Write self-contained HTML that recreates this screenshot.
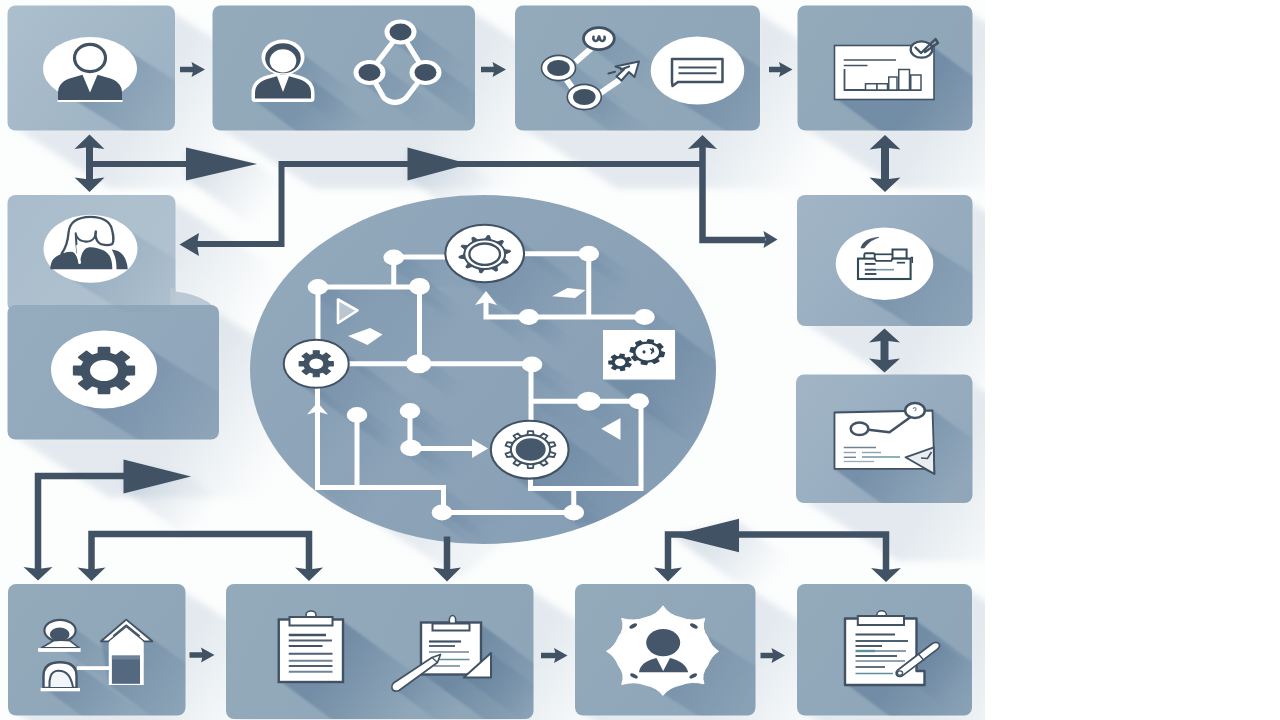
<!DOCTYPE html>
<html lang="en"><head><meta charset="utf-8"><title>Workflow diagram</title>
<style>
html,body{margin:0;padding:0;background:#fff;font-family:"Liberation Sans",sans-serif;}
body{width:1280px;height:720px;overflow:hidden;}
svg{display:block;}
</style></head><body>
<svg width="1280" height="720" viewBox="0 0 1280 720" role="img" aria-label="Workflow process diagram">
<defs><clipPath id="c_b1"><rect x="7.5" y="5.5" width="167.5" height="125" rx="8"/></clipPath><linearGradient id="g1" gradientUnits="userSpaceOnUse" x1="7.5" y1="5.5" x2="175" y2="130.5"><stop offset="0" stop-color="#acbfcd" stop-opacity="1"/><stop offset="1" stop-color="#9ab0c1" stop-opacity="1"/></linearGradient><linearGradient id="g2" gradientUnits="userSpaceOnUse" x1="171" y1="69" x2="257.49" y2="124.8"><stop offset="0" stop-color="#b4c4d2" stop-opacity="0.35"/><stop offset="1" stop-color="#b4c4d2" stop-opacity="0"/></linearGradient><clipPath id="c_b2"><rect x="212.5" y="5.5" width="262.5" height="125" rx="8"/></clipPath><linearGradient id="g3" gradientUnits="userSpaceOnUse" x1="212.5" y1="5.5" x2="475" y2="130.5"><stop offset="0" stop-color="#93aabb" stop-opacity="1"/><stop offset="1" stop-color="#8ea5b8" stop-opacity="1"/></linearGradient><linearGradient id="g4" gradientUnits="userSpaceOnUse" x1="471" y1="69" x2="557.49" y2="124.8"><stop offset="0" stop-color="#b4c4d2" stop-opacity="0.35"/><stop offset="1" stop-color="#b4c4d2" stop-opacity="0"/></linearGradient><clipPath id="c_b3"><rect x="515" y="5.5" width="245" height="125" rx="8"/></clipPath><linearGradient id="g5" gradientUnits="userSpaceOnUse" x1="515" y1="5.5" x2="760" y2="130.5"><stop offset="0" stop-color="#93aabb" stop-opacity="1"/><stop offset="1" stop-color="#8ea5b8" stop-opacity="1"/></linearGradient><linearGradient id="g6" gradientUnits="userSpaceOnUse" x1="756" y1="69" x2="842.49" y2="124.8"><stop offset="0" stop-color="#b4c4d2" stop-opacity="0.35"/><stop offset="1" stop-color="#b4c4d2" stop-opacity="0"/></linearGradient><clipPath id="c_b4"><rect x="797.5" y="5.5" width="175" height="125" rx="8"/></clipPath><linearGradient id="g7" gradientUnits="userSpaceOnUse" x1="797.5" y1="5.5" x2="972.5" y2="130.5"><stop offset="0" stop-color="#93aabb" stop-opacity="1"/><stop offset="1" stop-color="#8ea5b8" stop-opacity="1"/></linearGradient><linearGradient id="g8" gradientUnits="userSpaceOnUse" x1="968.5" y1="69" x2="1054.99" y2="124.8"><stop offset="0" stop-color="#b4c4d2" stop-opacity="0.35"/><stop offset="1" stop-color="#b4c4d2" stop-opacity="0"/></linearGradient><clipPath id="c_b5"><rect x="7.5" y="195" width="168" height="117" rx="8"/></clipPath><linearGradient id="g9" gradientUnits="userSpaceOnUse" x1="7.5" y1="195" x2="175.5" y2="312"><stop offset="0" stop-color="#a9bccb" stop-opacity="1"/><stop offset="1" stop-color="#b1c3d0" stop-opacity="1"/></linearGradient><linearGradient id="g10" gradientUnits="userSpaceOnUse" x1="171.5" y1="254.5" x2="257.99" y2="310.3"><stop offset="0" stop-color="#b4c4d2" stop-opacity="0.35"/><stop offset="1" stop-color="#b4c4d2" stop-opacity="0"/></linearGradient><clipPath id="c_b6"><rect x="7.5" y="305" width="211.5" height="134.5" rx="8"/></clipPath><linearGradient id="g11" gradientUnits="userSpaceOnUse" x1="7.5" y1="305" x2="219" y2="439.5"><stop offset="0" stop-color="#95abbe" stop-opacity="1"/><stop offset="1" stop-color="#8fa5b9" stop-opacity="1"/></linearGradient><linearGradient id="g12" gradientUnits="userSpaceOnUse" x1="215" y1="373.25" x2="301.49" y2="429.05"><stop offset="0" stop-color="#b4c4d2" stop-opacity="0.35"/><stop offset="1" stop-color="#b4c4d2" stop-opacity="0"/></linearGradient><clipPath id="c_b7"><rect x="797" y="195" width="175.5" height="131" rx="8"/></clipPath><linearGradient id="g13" gradientUnits="userSpaceOnUse" x1="797" y1="195" x2="972.5" y2="326"><stop offset="0" stop-color="#a1b5c6" stop-opacity="1"/><stop offset="1" stop-color="#90a7ba" stop-opacity="1"/></linearGradient><linearGradient id="g14" gradientUnits="userSpaceOnUse" x1="968.5" y1="261.5" x2="1054.99" y2="317.3"><stop offset="0" stop-color="#b4c4d2" stop-opacity="0.35"/><stop offset="1" stop-color="#b4c4d2" stop-opacity="0"/></linearGradient><clipPath id="c_b8"><rect x="796" y="374.5" width="176.5" height="128.5" rx="8"/></clipPath><linearGradient id="g15" gradientUnits="userSpaceOnUse" x1="796" y1="374.5" x2="972.5" y2="503"><stop offset="0" stop-color="#a1b5c6" stop-opacity="1"/><stop offset="1" stop-color="#8fa6b9" stop-opacity="1"/></linearGradient><linearGradient id="g16" gradientUnits="userSpaceOnUse" x1="968.5" y1="439.75" x2="1054.99" y2="495.55"><stop offset="0" stop-color="#b4c4d2" stop-opacity="0.35"/><stop offset="1" stop-color="#b4c4d2" stop-opacity="0"/></linearGradient><clipPath id="c_b9"><rect x="8" y="584" width="177.5" height="131.5" rx="8"/></clipPath><linearGradient id="g17" gradientUnits="userSpaceOnUse" x1="8" y1="584" x2="185.5" y2="715.5"><stop offset="0" stop-color="#93aabb" stop-opacity="1"/><stop offset="1" stop-color="#8ea5b8" stop-opacity="1"/></linearGradient><linearGradient id="g18" gradientUnits="userSpaceOnUse" x1="181.5" y1="650.75" x2="267.99" y2="706.55"><stop offset="0" stop-color="#b4c4d2" stop-opacity="0.35"/><stop offset="1" stop-color="#b4c4d2" stop-opacity="0"/></linearGradient><clipPath id="c_b10"><rect x="226" y="584" width="307.5" height="135" rx="8"/></clipPath><linearGradient id="g19" gradientUnits="userSpaceOnUse" x1="226" y1="584" x2="533.5" y2="719"><stop offset="0" stop-color="#93aabb" stop-opacity="1"/><stop offset="1" stop-color="#8ea5b8" stop-opacity="1"/></linearGradient><linearGradient id="g20" gradientUnits="userSpaceOnUse" x1="529.5" y1="652.5" x2="615.99" y2="708.3"><stop offset="0" stop-color="#b4c4d2" stop-opacity="0.35"/><stop offset="1" stop-color="#b4c4d2" stop-opacity="0"/></linearGradient><clipPath id="c_b11"><rect x="575" y="584" width="180.5" height="131.5" rx="8"/></clipPath><linearGradient id="g21" gradientUnits="userSpaceOnUse" x1="575" y1="584" x2="755.5" y2="715.5"><stop offset="0" stop-color="#93aabb" stop-opacity="1"/><stop offset="1" stop-color="#8ea5b8" stop-opacity="1"/></linearGradient><linearGradient id="g22" gradientUnits="userSpaceOnUse" x1="751.5" y1="650.75" x2="837.99" y2="706.55"><stop offset="0" stop-color="#b4c4d2" stop-opacity="0.35"/><stop offset="1" stop-color="#b4c4d2" stop-opacity="0"/></linearGradient><clipPath id="c_b12"><rect x="797" y="584" width="175" height="131.5" rx="8"/></clipPath><linearGradient id="g23" gradientUnits="userSpaceOnUse" x1="797" y1="584" x2="972" y2="715.5"><stop offset="0" stop-color="#93aabb" stop-opacity="1"/><stop offset="1" stop-color="#8ea5b8" stop-opacity="1"/></linearGradient><linearGradient id="g24" gradientUnits="userSpaceOnUse" x1="968" y1="650.75" x2="1054.49" y2="706.55"><stop offset="0" stop-color="#b4c4d2" stop-opacity="0.35"/><stop offset="1" stop-color="#b4c4d2" stop-opacity="0"/></linearGradient><clipPath id="c_ell"><ellipse cx="483" cy="369.5" rx="233" ry="174.5"/></clipPath><linearGradient id="g25" gradientUnits="userSpaceOnUse" x1="483" y1="369.5" x2="604.12" y2="450.25"><stop offset="0" stop-color="#b4c4d2" stop-opacity="0.42"/><stop offset="1" stop-color="#b4c4d2" stop-opacity="0"/></linearGradient><linearGradient id="g26" gradientUnits="userSpaceOnUse" x1="300" y1="220" x2="660" y2="520"><stop offset="0" stop-color="#92a8bb" stop-opacity="1"/><stop offset="1" stop-color="#869eb4" stop-opacity="1"/></linearGradient><linearGradient id="g27" gradientUnits="userSpaceOnUse" x1="209.67" y1="164" x2="267.81" y2="206.75"><stop offset="0" stop-color="#b3c3d2" stop-opacity="0.42"/><stop offset="1" stop-color="#b3c3d2" stop-opacity="0"/></linearGradient><linearGradient id="g28" gradientUnits="userSpaceOnUse" x1="428" y1="164" x2="486.14" y2="206.75"><stop offset="0" stop-color="#b3c3d2" stop-opacity="0.42"/><stop offset="1" stop-color="#b3c3d2" stop-opacity="0"/></linearGradient><linearGradient id="g29" gradientUnits="userSpaceOnUse" x1="146" y1="476.5" x2="204.14" y2="519.25"><stop offset="0" stop-color="#b3c3d2" stop-opacity="0.42"/><stop offset="1" stop-color="#b3c3d2" stop-opacity="0"/></linearGradient><linearGradient id="g30" gradientUnits="userSpaceOnUse" x1="716.67" y1="535.5" x2="774.81" y2="578.25"><stop offset="0" stop-color="#b3c3d2" stop-opacity="0.42"/><stop offset="1" stop-color="#b3c3d2" stop-opacity="0"/></linearGradient><linearGradient id="g31" gradientUnits="userSpaceOnUse" x1="90" y1="68.5" x2="184.24" y2="127.4"><stop offset="0" stop-color="#5f7c99" stop-opacity="0.55"/><stop offset="1" stop-color="#5f7c99" stop-opacity="0"/></linearGradient><linearGradient id="g32" gradientUnits="userSpaceOnUse" x1="283" y1="62" x2="347.6" y2="109.5"><stop offset="0" stop-color="#5f7c99" stop-opacity="0.5"/><stop offset="1" stop-color="#5f7c99" stop-opacity="0"/></linearGradient><linearGradient id="g33" gradientUnits="userSpaceOnUse" x1="312" y1="90" x2="367.08" y2="130.5"><stop offset="0" stop-color="#5f7c99" stop-opacity="0.45"/><stop offset="1" stop-color="#5f7c99" stop-opacity="0"/></linearGradient><linearGradient id="g34" gradientUnits="userSpaceOnUse" x1="400.5" y1="32" x2="465.1" y2="79.5"><stop offset="0" stop-color="#5f7c99" stop-opacity="0.38"/><stop offset="1" stop-color="#5f7c99" stop-opacity="0"/></linearGradient><linearGradient id="g35" gradientUnits="userSpaceOnUse" x1="369.5" y1="72.5" x2="434.1" y2="120"><stop offset="0" stop-color="#5f7c99" stop-opacity="0.38"/><stop offset="1" stop-color="#5f7c99" stop-opacity="0"/></linearGradient><linearGradient id="g36" gradientUnits="userSpaceOnUse" x1="425.5" y1="72.5" x2="490.1" y2="120"><stop offset="0" stop-color="#5f7c99" stop-opacity="0.38"/><stop offset="1" stop-color="#5f7c99" stop-opacity="0"/></linearGradient><linearGradient id="g37" gradientUnits="userSpaceOnUse" x1="599.5" y1="38" x2="664.1" y2="85.5"><stop offset="0" stop-color="#5f7c99" stop-opacity="0.38"/><stop offset="1" stop-color="#5f7c99" stop-opacity="0"/></linearGradient><linearGradient id="g38" gradientUnits="userSpaceOnUse" x1="558" y1="68.75" x2="622.6" y2="116.25"><stop offset="0" stop-color="#5f7c99" stop-opacity="0.38"/><stop offset="1" stop-color="#5f7c99" stop-opacity="0"/></linearGradient><linearGradient id="g39" gradientUnits="userSpaceOnUse" x1="584.5" y1="97" x2="649.1" y2="144.5"><stop offset="0" stop-color="#5f7c99" stop-opacity="0.38"/><stop offset="1" stop-color="#5f7c99" stop-opacity="0"/></linearGradient><linearGradient id="g40" gradientUnits="userSpaceOnUse" x1="697.5" y1="70.5" x2="791.74" y2="129.4"><stop offset="0" stop-color="#5f7c99" stop-opacity="0.55"/><stop offset="1" stop-color="#5f7c99" stop-opacity="0"/></linearGradient><linearGradient id="g41" gradientUnits="userSpaceOnUse" x1="933" y1="72.75" x2="1006.44" y2="126.75"><stop offset="0" stop-color="#5f7c99" stop-opacity="0.62"/><stop offset="1" stop-color="#5f7c99" stop-opacity="0"/></linearGradient><linearGradient id="g42" gradientUnits="userSpaceOnUse" x1="90.5" y1="248.75" x2="184.74" y2="307.65"><stop offset="0" stop-color="#7f99b2" stop-opacity="0.45"/><stop offset="1" stop-color="#7f99b2" stop-opacity="0"/></linearGradient><linearGradient id="g43" gradientUnits="userSpaceOnUse" x1="104" y1="369.5" x2="218" y2="440.75"><stop offset="0" stop-color="#5f7c99" stop-opacity="0.55"/><stop offset="1" stop-color="#5f7c99" stop-opacity="0"/></linearGradient><linearGradient id="g44" gradientUnits="userSpaceOnUse" x1="884.5" y1="263.75" x2="990.9" y2="330.25"><stop offset="0" stop-color="#5f7c99" stop-opacity="0.55"/><stop offset="1" stop-color="#5f7c99" stop-opacity="0"/></linearGradient><linearGradient id="g45" gradientUnits="userSpaceOnUse" x1="884.12" y1="441.25" x2="955.18" y2="493.5"><stop offset="0" stop-color="#5f7c99" stop-opacity="0.6"/><stop offset="1" stop-color="#5f7c99" stop-opacity="0"/></linearGradient><linearGradient id="g46" gradientUnits="userSpaceOnUse" x1="60" y1="632.5" x2="118.14" y2="675.25"><stop offset="0" stop-color="#5f7c99" stop-opacity="0.45"/><stop offset="1" stop-color="#5f7c99" stop-opacity="0"/></linearGradient><linearGradient id="g47" gradientUnits="userSpaceOnUse" x1="76" y1="676" x2="131.08" y2="716.5"><stop offset="0" stop-color="#5f7c99" stop-opacity="0.45"/><stop offset="1" stop-color="#5f7c99" stop-opacity="0"/></linearGradient><linearGradient id="g48" gradientUnits="userSpaceOnUse" x1="126.5" y1="650.07" x2="197.56" y2="702.32"><stop offset="0" stop-color="#5f7c99" stop-opacity="0.5"/><stop offset="1" stop-color="#5f7c99" stop-opacity="0"/></linearGradient><linearGradient id="g49" gradientUnits="userSpaceOnUse" x1="342" y1="650.75" x2="415.44" y2="704.75"><stop offset="0" stop-color="#5f7c99" stop-opacity="0.6"/><stop offset="1" stop-color="#5f7c99" stop-opacity="0"/></linearGradient><linearGradient id="g50" gradientUnits="userSpaceOnUse" x1="480" y1="648.5" x2="553.44" y2="702.5"><stop offset="0" stop-color="#5f7c99" stop-opacity="0.6"/><stop offset="1" stop-color="#5f7c99" stop-opacity="0"/></linearGradient><linearGradient id="g51" gradientUnits="userSpaceOnUse" x1="481.92" y1="669.33" x2="533.6" y2="707.33"><stop offset="0" stop-color="#5f7c99" stop-opacity="0.5"/><stop offset="1" stop-color="#5f7c99" stop-opacity="0"/></linearGradient><linearGradient id="g52" gradientUnits="userSpaceOnUse" x1="416.62" y1="673.25" x2="461.85" y2="706.5"><stop offset="0" stop-color="#5f7c99" stop-opacity="0.45"/><stop offset="1" stop-color="#5f7c99" stop-opacity="0"/></linearGradient><linearGradient id="g53" gradientUnits="userSpaceOnUse" x1="663" y1="651" x2="769.4" y2="717.5"><stop offset="0" stop-color="#5f7c99" stop-opacity="0.55"/><stop offset="1" stop-color="#5f7c99" stop-opacity="0"/></linearGradient><linearGradient id="g54" gradientUnits="userSpaceOnUse" x1="915.5" y1="652" x2="988.94" y2="706"><stop offset="0" stop-color="#5f7c99" stop-opacity="0.6"/><stop offset="1" stop-color="#5f7c99" stop-opacity="0"/></linearGradient><linearGradient id="g55" gradientUnits="userSpaceOnUse" x1="918.95" y1="659.42" x2="957.71" y2="687.92"><stop offset="0" stop-color="#5f7c99" stop-opacity="0.45"/><stop offset="1" stop-color="#5f7c99" stop-opacity="0"/></linearGradient><linearGradient id="g56" gradientUnits="userSpaceOnUse" x1="393.75" y1="257" x2="439.99" y2="291"><stop offset="0" stop-color="#6e8aa5" stop-opacity="0.34"/><stop offset="1" stop-color="#6e8aa5" stop-opacity="0"/></linearGradient><linearGradient id="g57" gradientUnits="userSpaceOnUse" x1="523" y1="253.75" x2="569.24" y2="287.75"><stop offset="0" stop-color="#6e8aa5" stop-opacity="0.34"/><stop offset="1" stop-color="#6e8aa5" stop-opacity="0"/></linearGradient><linearGradient id="g58" gradientUnits="userSpaceOnUse" x1="393.75" y1="257.5" x2="439.99" y2="291.5"><stop offset="0" stop-color="#6e8aa5" stop-opacity="0.34"/><stop offset="1" stop-color="#6e8aa5" stop-opacity="0"/></linearGradient><linearGradient id="g59" gradientUnits="userSpaceOnUse" x1="318" y1="287" x2="364.24" y2="321"><stop offset="0" stop-color="#6e8aa5" stop-opacity="0.34"/><stop offset="1" stop-color="#6e8aa5" stop-opacity="0"/></linearGradient><linearGradient id="g60" gradientUnits="userSpaceOnUse" x1="318" y1="287" x2="364.24" y2="321"><stop offset="0" stop-color="#6e8aa5" stop-opacity="0.34"/><stop offset="1" stop-color="#6e8aa5" stop-opacity="0"/></linearGradient><linearGradient id="g61" gradientUnits="userSpaceOnUse" x1="419.5" y1="287" x2="465.74" y2="321"><stop offset="0" stop-color="#6e8aa5" stop-opacity="0.34"/><stop offset="1" stop-color="#6e8aa5" stop-opacity="0"/></linearGradient><linearGradient id="g62" gradientUnits="userSpaceOnUse" x1="348" y1="363.75" x2="394.24" y2="397.75"><stop offset="0" stop-color="#6e8aa5" stop-opacity="0.34"/><stop offset="1" stop-color="#6e8aa5" stop-opacity="0"/></linearGradient><linearGradient id="g63" gradientUnits="userSpaceOnUse" x1="588.75" y1="253.75" x2="634.99" y2="287.75"><stop offset="0" stop-color="#6e8aa5" stop-opacity="0.34"/><stop offset="1" stop-color="#6e8aa5" stop-opacity="0"/></linearGradient><linearGradient id="g64" gradientUnits="userSpaceOnUse" x1="486" y1="300" x2="532.24" y2="334"><stop offset="0" stop-color="#6e8aa5" stop-opacity="0.34"/><stop offset="1" stop-color="#6e8aa5" stop-opacity="0"/></linearGradient><linearGradient id="g65" gradientUnits="userSpaceOnUse" x1="486" y1="317" x2="532.24" y2="351"><stop offset="0" stop-color="#6e8aa5" stop-opacity="0.34"/><stop offset="1" stop-color="#6e8aa5" stop-opacity="0"/></linearGradient><linearGradient id="g66" gradientUnits="userSpaceOnUse" x1="531" y1="364.5" x2="577.24" y2="398.5"><stop offset="0" stop-color="#6e8aa5" stop-opacity="0.34"/><stop offset="1" stop-color="#6e8aa5" stop-opacity="0"/></linearGradient><linearGradient id="g67" gradientUnits="userSpaceOnUse" x1="531" y1="401.25" x2="577.24" y2="435.25"><stop offset="0" stop-color="#6e8aa5" stop-opacity="0.34"/><stop offset="1" stop-color="#6e8aa5" stop-opacity="0"/></linearGradient><linearGradient id="g68" gradientUnits="userSpaceOnUse" x1="641" y1="401.25" x2="687.24" y2="435.25"><stop offset="0" stop-color="#6e8aa5" stop-opacity="0.34"/><stop offset="1" stop-color="#6e8aa5" stop-opacity="0"/></linearGradient><linearGradient id="g69" gradientUnits="userSpaceOnUse" x1="641" y1="488.5" x2="687.24" y2="522.5"><stop offset="0" stop-color="#6e8aa5" stop-opacity="0.34"/><stop offset="1" stop-color="#6e8aa5" stop-opacity="0"/></linearGradient><linearGradient id="g70" gradientUnits="userSpaceOnUse" x1="530.5" y1="488.5" x2="576.74" y2="522.5"><stop offset="0" stop-color="#6e8aa5" stop-opacity="0.34"/><stop offset="1" stop-color="#6e8aa5" stop-opacity="0"/></linearGradient><linearGradient id="g71" gradientUnits="userSpaceOnUse" x1="573.75" y1="488.5" x2="619.99" y2="522.5"><stop offset="0" stop-color="#6e8aa5" stop-opacity="0.34"/><stop offset="1" stop-color="#6e8aa5" stop-opacity="0"/></linearGradient><linearGradient id="g72" gradientUnits="userSpaceOnUse" x1="442" y1="512.5" x2="488.24" y2="546.5"><stop offset="0" stop-color="#6e8aa5" stop-opacity="0.34"/><stop offset="1" stop-color="#6e8aa5" stop-opacity="0"/></linearGradient><linearGradient id="g73" gradientUnits="userSpaceOnUse" x1="317.5" y1="387" x2="363.74" y2="421"><stop offset="0" stop-color="#6e8aa5" stop-opacity="0.34"/><stop offset="1" stop-color="#6e8aa5" stop-opacity="0"/></linearGradient><linearGradient id="g74" gradientUnits="userSpaceOnUse" x1="317.5" y1="487.5" x2="363.74" y2="521.5"><stop offset="0" stop-color="#6e8aa5" stop-opacity="0.34"/><stop offset="1" stop-color="#6e8aa5" stop-opacity="0"/></linearGradient><linearGradient id="g75" gradientUnits="userSpaceOnUse" x1="443.5" y1="487.5" x2="489.74" y2="521.5"><stop offset="0" stop-color="#6e8aa5" stop-opacity="0.34"/><stop offset="1" stop-color="#6e8aa5" stop-opacity="0"/></linearGradient><linearGradient id="g76" gradientUnits="userSpaceOnUse" x1="357" y1="415" x2="403.24" y2="449"><stop offset="0" stop-color="#6e8aa5" stop-opacity="0.34"/><stop offset="1" stop-color="#6e8aa5" stop-opacity="0"/></linearGradient><linearGradient id="g77" gradientUnits="userSpaceOnUse" x1="410" y1="411" x2="456.24" y2="445"><stop offset="0" stop-color="#6e8aa5" stop-opacity="0.34"/><stop offset="1" stop-color="#6e8aa5" stop-opacity="0"/></linearGradient><linearGradient id="g78" gradientUnits="userSpaceOnUse" x1="411" y1="448.5" x2="457.24" y2="482.5"><stop offset="0" stop-color="#6e8aa5" stop-opacity="0.34"/><stop offset="1" stop-color="#6e8aa5" stop-opacity="0"/></linearGradient><linearGradient id="g79" gradientUnits="userSpaceOnUse" x1="318" y1="287" x2="419.5" y2="363.75"><stop offset="0" stop-color="#6e8aa5" stop-opacity="0.39"/><stop offset="1" stop-color="#6e8aa5" stop-opacity="0.15"/></linearGradient><linearGradient id="g80" gradientUnits="userSpaceOnUse" x1="531" y1="401.25" x2="641" y2="488.5"><stop offset="0" stop-color="#6e8aa5" stop-opacity="0.39"/><stop offset="1" stop-color="#6e8aa5" stop-opacity="0.15"/></linearGradient><linearGradient id="g81" gradientUnits="userSpaceOnUse" x1="394" y1="257" x2="486" y2="287"><stop offset="0" stop-color="#6e8aa5" stop-opacity="0.20800000000000002"/><stop offset="1" stop-color="#6e8aa5" stop-opacity="0.08"/></linearGradient><linearGradient id="g82" gradientUnits="userSpaceOnUse" x1="484.5" y1="253.75" x2="574.94" y2="320.25"><stop offset="0" stop-color="#5f7c99" stop-opacity="0.5"/><stop offset="1" stop-color="#5f7c99" stop-opacity="0"/></linearGradient><linearGradient id="g83" gradientUnits="userSpaceOnUse" x1="316.25" y1="363.75" x2="406.69" y2="430.25"><stop offset="0" stop-color="#5f7c99" stop-opacity="0.5"/><stop offset="1" stop-color="#5f7c99" stop-opacity="0"/></linearGradient><linearGradient id="g84" gradientUnits="userSpaceOnUse" x1="530" y1="450" x2="620.44" y2="516.5"><stop offset="0" stop-color="#5f7c99" stop-opacity="0.5"/><stop offset="1" stop-color="#5f7c99" stop-opacity="0"/></linearGradient><linearGradient id="g85" gradientUnits="userSpaceOnUse" x1="675" y1="330" x2="749.8" y2="385"><stop offset="0" stop-color="#5f7c99" stop-opacity="0.5"/><stop offset="1" stop-color="#5f7c99" stop-opacity="0"/></linearGradient><linearGradient id="g86" gradientUnits="userSpaceOnUse" x1="393.75" y1="257.5" x2="434.55" y2="287.5"><stop offset="0" stop-color="#6e8aa5" stop-opacity="0.45"/><stop offset="1" stop-color="#6e8aa5" stop-opacity="0"/></linearGradient><linearGradient id="g87" gradientUnits="userSpaceOnUse" x1="318" y1="287" x2="358.8" y2="317"><stop offset="0" stop-color="#6e8aa5" stop-opacity="0.45"/><stop offset="1" stop-color="#6e8aa5" stop-opacity="0"/></linearGradient><linearGradient id="g88" gradientUnits="userSpaceOnUse" x1="419.5" y1="286.5" x2="460.3" y2="316.5"><stop offset="0" stop-color="#6e8aa5" stop-opacity="0.45"/><stop offset="1" stop-color="#6e8aa5" stop-opacity="0"/></linearGradient><linearGradient id="g89" gradientUnits="userSpaceOnUse" x1="588.75" y1="253.75" x2="629.55" y2="283.75"><stop offset="0" stop-color="#6e8aa5" stop-opacity="0.45"/><stop offset="1" stop-color="#6e8aa5" stop-opacity="0"/></linearGradient><linearGradient id="g90" gradientUnits="userSpaceOnUse" x1="528.75" y1="317" x2="569.55" y2="347"><stop offset="0" stop-color="#6e8aa5" stop-opacity="0.45"/><stop offset="1" stop-color="#6e8aa5" stop-opacity="0"/></linearGradient><linearGradient id="g91" gradientUnits="userSpaceOnUse" x1="644.5" y1="317" x2="685.3" y2="347"><stop offset="0" stop-color="#6e8aa5" stop-opacity="0.45"/><stop offset="1" stop-color="#6e8aa5" stop-opacity="0"/></linearGradient><linearGradient id="g92" gradientUnits="userSpaceOnUse" x1="418.75" y1="363.75" x2="459.55" y2="393.75"><stop offset="0" stop-color="#6e8aa5" stop-opacity="0.45"/><stop offset="1" stop-color="#6e8aa5" stop-opacity="0"/></linearGradient><linearGradient id="g93" gradientUnits="userSpaceOnUse" x1="532" y1="364.5" x2="572.8" y2="394.5"><stop offset="0" stop-color="#6e8aa5" stop-opacity="0.45"/><stop offset="1" stop-color="#6e8aa5" stop-opacity="0"/></linearGradient><linearGradient id="g94" gradientUnits="userSpaceOnUse" x1="357" y1="415" x2="397.8" y2="445"><stop offset="0" stop-color="#6e8aa5" stop-opacity="0.45"/><stop offset="1" stop-color="#6e8aa5" stop-opacity="0"/></linearGradient><linearGradient id="g95" gradientUnits="userSpaceOnUse" x1="410" y1="411" x2="450.8" y2="441"><stop offset="0" stop-color="#6e8aa5" stop-opacity="0.45"/><stop offset="1" stop-color="#6e8aa5" stop-opacity="0"/></linearGradient><linearGradient id="g96" gradientUnits="userSpaceOnUse" x1="411" y1="448" x2="451.8" y2="478"><stop offset="0" stop-color="#6e8aa5" stop-opacity="0.45"/><stop offset="1" stop-color="#6e8aa5" stop-opacity="0"/></linearGradient><linearGradient id="g97" gradientUnits="userSpaceOnUse" x1="442" y1="512.5" x2="482.8" y2="542.5"><stop offset="0" stop-color="#6e8aa5" stop-opacity="0.45"/><stop offset="1" stop-color="#6e8aa5" stop-opacity="0"/></linearGradient><linearGradient id="g98" gradientUnits="userSpaceOnUse" x1="588.75" y1="401.25" x2="629.55" y2="431.25"><stop offset="0" stop-color="#6e8aa5" stop-opacity="0.45"/><stop offset="1" stop-color="#6e8aa5" stop-opacity="0"/></linearGradient><linearGradient id="g99" gradientUnits="userSpaceOnUse" x1="638.75" y1="401.25" x2="679.55" y2="431.25"><stop offset="0" stop-color="#6e8aa5" stop-opacity="0.45"/><stop offset="1" stop-color="#6e8aa5" stop-opacity="0"/></linearGradient><linearGradient id="g100" gradientUnits="userSpaceOnUse" x1="573.75" y1="512.5" x2="614.55" y2="542.5"><stop offset="0" stop-color="#6e8aa5" stop-opacity="0.45"/><stop offset="1" stop-color="#6e8aa5" stop-opacity="0"/></linearGradient><filter id="blur3" x="-5%" y="-5%" width="110%" height="110%"><feGaussianBlur stdDeviation="3"/></filter><filter id="blur1" x="-5%" y="-5%" width="110%" height="110%"><feGaussianBlur stdDeviation="1.2"/></filter><clipPath id="c_img"><rect x="0" y="0" width="985" height="720"/></clipPath></defs>
<rect width="1280" height="720" fill="#ffffff"/>
<g clip-path="url(#c_img)">
<rect x="0" y="0" width="985" height="720" fill="#fcfdfd"/>
<g filter="url(#blur3)"><polygon points="171,11.5 267.1,73.5 267.1,188.5 109.6,188.5 13.5,126.5 171,126.5" fill="url(#g2)" />
<polygon points="471,11.5 567.1,73.5 567.1,188.5 314.6,188.5 218.5,126.5 471,126.5" fill="url(#g4)" />
<polygon points="756,11.5 852.1,73.5 852.1,188.5 617.1,188.5 521,126.5 756,126.5" fill="url(#g6)" />
<polygon points="968.5,11.5 1064.6,73.5 1064.6,188.5 899.6,188.5 803.5,126.5 968.5,126.5" fill="url(#g8)" />
<polygon points="171.5,201 267.6,263 267.6,370 109.6,370 13.5,308 171.5,308" fill="url(#g10)" />
<polygon points="215,311 311.1,373 311.1,497.5 109.6,497.5 13.5,435.5 215,435.5" fill="url(#g12)" />
<polygon points="968.5,201 1064.6,263 1064.6,384 899.1,384 803,322 968.5,322" fill="url(#g14)" />
<polygon points="968.5,380.5 1064.6,442.5 1064.6,561 898.1,561 802,499 968.5,499" fill="url(#g16)" />
<polygon points="181.5,590 277.6,652 277.6,773.5 110.1,773.5 14,711.5 181.5,711.5" fill="url(#g18)" />
<polygon points="529.5,590 625.6,652 625.6,777 328.1,777 232,715 529.5,715" fill="url(#g20)" />
<polygon points="751.5,590 847.6,652 847.6,773.5 677.1,773.5 581,711.5 751.5,711.5" fill="url(#g22)" />
<polygon points="968,590 1064.1,652 1064.1,773.5 899.1,773.5 803,711.5 968,711.5" fill="url(#g24)" />
<polygon points="633.6,245.8 761.1,330.8 459.9,578.2 332.4,493.2" fill="url(#g25)" />
<polygon points="186,150.5 257,164 318.2,209 247.2,222.5 186,177.5" fill="url(#g27)" />
<polygon points="407.5,150.5 469,164 530.2,209 468.7,222.5 407.5,177.5" fill="url(#g28)" />
<polygon points="123.5,462.5 191,476.5 252.2,521.5 184.7,535.5 123.5,490.5" fill="url(#g29)" />
<polygon points="672,535.5 739,521.75 800.2,566.75 800.2,594.25 733.2,580.5" fill="url(#g30)" /></g>
<g><rect x="7.5" y="5.5" width="167.5" height="125" rx="8" fill="url(#g1)"/>
<rect x="212.5" y="5.5" width="262.5" height="125" rx="8" fill="url(#g3)"/>
<rect x="515" y="5.5" width="245" height="125" rx="8" fill="url(#g5)"/>
<rect x="797.5" y="5.5" width="175" height="125" rx="8" fill="url(#g7)"/>
<rect x="7.5" y="195" width="168" height="117" rx="8" fill="url(#g9)"/>
<path d="M170,288 L175.5,288 L175.5,291.5 Q196,294 208,302 Q214,306.5 217.5,311.5 L170,311.5 Z" fill="#bac9d5"/>
<rect x="7.5" y="305" width="211.5" height="134.5" rx="8" fill="url(#g11)"/>
<rect x="797" y="195" width="175.5" height="131" rx="8" fill="url(#g13)"/>
<rect x="796" y="374.5" width="176.5" height="128.5" rx="8" fill="url(#g15)"/>
<rect x="8" y="584" width="177.5" height="131.5" rx="8" fill="url(#g17)"/>
<rect x="226" y="584" width="307.5" height="135" rx="8" fill="url(#g19)"/>
<rect x="575" y="584" width="180.5" height="131.5" rx="8" fill="url(#g21)"/>
<rect x="797" y="584" width="175" height="131.5" rx="8" fill="url(#g23)"/>
<ellipse cx="483" cy="369.5" rx="233" ry="174.5" fill="url(#g26)"/></g>
<g><polygon points="120.78,46.61 219.98,108.61 158.42,152.39 59.22,90.39" fill="url(#g31)" clip-path="url(#c_b1)" filter="url(#blur1)"/>
<polygon points="296.08,49.14 364.08,99.14 337.92,124.86 269.92,74.86" fill="url(#g32)" clip-path="url(#c_b2)" filter="url(#blur1)"/>
<polygon points="312,80 373.2,125 373.2,145 315.2,145 254,100 312,100" fill="url(#g33)" clip-path="url(#c_b2)" filter="url(#blur1)"/>
<polygon points="410.88,23.7 478.88,73.7 458.12,90.3 390.12,40.3" fill="url(#g34)" clip-path="url(#c_b2)" filter="url(#blur1)"/>
<polygon points="379.88,64.2 447.88,114.2 427.12,130.8 359.12,80.8" fill="url(#g35)" clip-path="url(#c_b2)" filter="url(#blur1)"/>
<polygon points="435.88,64.2 503.88,114.2 483.12,130.8 415.12,80.8" fill="url(#g36)" clip-path="url(#c_b2)" filter="url(#blur1)"/>
<polygon points="609.88,29.7 677.88,79.7 657.12,96.3 589.12,46.3" fill="url(#g37)" clip-path="url(#c_b3)" filter="url(#blur1)"/>
<polygon points="568.38,60.45 636.38,110.45 615.62,127.05 547.62,77.05" fill="url(#g38)" clip-path="url(#c_b3)" filter="url(#blur1)"/>
<polygon points="594.88,88.7 662.88,138.7 642.12,155.3 574.12,105.3" fill="url(#g39)" clip-path="url(#c_b3)" filter="url(#blur1)"/>
<polygon points="727.21,46.46 826.41,108.46 766.99,156.54 667.79,94.54" fill="url(#g40)" clip-path="url(#c_b3)" filter="url(#blur1)"/>
<polygon points="933,47 1014.6,107 1014.6,158.5 917.6,158.5 836,98.5 933,98.5" fill="url(#g41)" clip-path="url(#c_b4)" filter="url(#blur1)"/>
<polygon points="120.21,224.71 219.41,286.71 159.99,334.79 60.79,272.79" fill="url(#g42)" clip-path="url(#c_b5)" filter="url(#blur1)"/>
<polygon points="137.29,341.47 257.29,416.47 190.71,472.53 70.71,397.53" fill="url(#g43)" clip-path="url(#c_b6)" filter="url(#blur1)"/>
<polygon points="914.97,237.48 1026.97,307.48 966.03,360.02 854.03,290.02" fill="url(#g44)" clip-path="url(#c_b7)" filter="url(#blur1)"/>
<polygon points="834.5,412 933,410 1007.8,465 1009.3,529 909.3,524 834.5,469" fill="url(#g45)" clip-path="url(#c_b8)" filter="url(#blur1)"/>
<polygon points="69.57,624.47 130.77,669.47 111.63,685.53 50.43,640.53" fill="url(#g46)" clip-path="url(#c_b9)" filter="url(#blur1)"/>
<polygon points="76,664 137.2,709 137.2,733 105.2,733 44,688 76,688" fill="url(#g47)" clip-path="url(#c_b9)" filter="url(#blur1)"/>
<polygon points="101,640.5 126,619.5 200.8,674.5 226.8,695.5 219.3,739.5 183.55,739.5 108.75,684.5" fill="url(#g48)" clip-path="url(#c_b9)" filter="url(#blur1)"/>
<polygon points="342,620.5 423.6,680.5 423.6,741 361.35,741 279.75,681 342,681" fill="url(#g49)" clip-path="url(#c_b10)" filter="url(#blur1)"/>
<polygon points="480,623.5 561.6,683.5 561.6,733.5 503.6,733.5 422,673.5 480,673.5" fill="url(#g50)" clip-path="url(#c_b10)" filter="url(#blur1)"/>
<polygon points="463.75,677.5 491,653 545.4,693 545.4,717.5 518.15,717.5" fill="url(#g51)" clip-path="url(#c_b10)" filter="url(#blur1)"/>
<polygon points="392.5,687.5 440,654.5 487.6,689.5 483.6,695 445.6,726 440.1,722.5" fill="url(#g52)" clip-path="url(#c_b10)" filter="url(#blur1)"/>
<polygon points="691.17,625.65 803.17,695.65 746.83,746.35 634.83,676.35" fill="url(#g53)" clip-path="url(#c_b11)" filter="url(#blur1)"/>
<polygon points="915.5,620 997.1,680 997.1,744 927.6,744 846,684 915.5,684" fill="url(#g54)" clip-path="url(#c_b12)" filter="url(#blur1)"/>
<polygon points="899,672.7 938.8,642 979.6,672 975.8,678 943.8,705 939.8,702.7" fill="url(#g55)" clip-path="url(#c_b12)" filter="url(#blur1)"/>
<g clip-path="url(#c_ell)" filter="url(#blur1)"><polygon points="393.75,257 446,257 492.24,291 439.99,291" fill="url(#g56)" /><polygon points="523,253.75 588.75,253.75 634.99,287.75 569.24,287.75" fill="url(#g57)" /><polygon points="393.75,257.5 393.75,287 439.99,321 439.99,291.5" fill="url(#g58)" /><polygon points="318,287 419.5,287 465.74,321 364.24,321" fill="url(#g59)" /><polygon points="318,287 318,341 364.24,375 364.24,321" fill="url(#g60)" /><polygon points="419.5,287 419.5,363.75 465.74,397.75 465.74,321" fill="url(#g61)" /><polygon points="348,363.75 532,363.75 578.24,397.75 394.24,397.75" fill="url(#g62)" /><polygon points="588.75,253.75 588.75,317 634.99,351 634.99,287.75" fill="url(#g63)" /><polygon points="486,300 486,317 532.24,351 532.24,334" fill="url(#g64)" /><polygon points="486,317 644.5,317 690.74,351 532.24,351" fill="url(#g65)" /><polygon points="531,364.5 531,422 577.24,456 577.24,398.5" fill="url(#g66)" /><polygon points="531,401.25 638.75,401.25 684.99,435.25 577.24,435.25" fill="url(#g67)" /><polygon points="641,401.25 641,488.5 687.24,522.5 687.24,435.25" fill="url(#g68)" /><polygon points="641,488.5 530.5,488.5 576.74,522.5 687.24,522.5" fill="url(#g69)" /><polygon points="530.5,488.5 530.5,478 576.74,512 576.74,522.5" fill="url(#g70)" /><polygon points="573.75,488.5 573.75,512.5 619.99,546.5 619.99,522.5" fill="url(#g71)" /><polygon points="442,512.5 573.75,512.5 619.99,546.5 488.24,546.5" fill="url(#g72)" /><polygon points="317.5,387 317.5,487.5 363.74,521.5 363.74,421" fill="url(#g73)" /><polygon points="317.5,487.5 443.5,487.5 489.74,521.5 363.74,521.5" fill="url(#g74)" /><polygon points="443.5,487.5 443.5,512.5 489.74,546.5 489.74,521.5" fill="url(#g75)" /><polygon points="357,415 357,487.5 403.24,521.5 403.24,449" fill="url(#g76)" /><polygon points="410,411 410,448 456.24,482 456.24,445" fill="url(#g77)" /><polygon points="411,448.5 474,448.5 520.24,482.5 457.24,482.5" fill="url(#g78)" /><rect x="318" y="287" width="101.5" height="76.75" fill="url(#g79)"/><rect x="531" y="401.25" width="110" height="87.25" fill="url(#g80)"/><rect x="394" y="257" width="92" height="30" fill="url(#g81)"/><polygon points="511.37,234.3 606.57,304.3 552.83,343.2 457.63,273.2" fill="url(#g82)" /><polygon points="338.17,347.49 433.37,417.49 389.53,450.01 294.33,380.01" fill="url(#g83)" /><polygon points="556.16,430.2 651.36,500.2 599.04,539.8 503.84,469.8" fill="url(#g84)" /><polygon points="675,330 756.6,390 756.6,439.5 684.6,439.5 603,379.5 675,379.5" fill="url(#g85)" /><polygon points="401.17,251.84 441.97,281.84 427.13,293.16 386.33,263.16" fill="url(#g86)" /><polygon points="325.42,281.34 366.22,311.34 351.38,322.66 310.58,292.66" fill="url(#g87)" /><polygon points="426.92,280.84 467.72,310.84 452.88,322.16 412.08,292.16" fill="url(#g88)" /><polygon points="596.17,248.09 636.97,278.09 622.13,289.41 581.33,259.41" fill="url(#g89)" /><polygon points="536.17,311.34 576.97,341.34 562.13,352.66 521.33,322.66" fill="url(#g90)" /><polygon points="651.92,311.34 692.72,341.34 677.88,352.66 637.08,322.66" fill="url(#g91)" /><polygon points="426.17,358.09 466.97,388.09 452.13,399.41 411.33,369.41" fill="url(#g92)" /><polygon points="539.42,358.84 580.22,388.84 565.38,400.16 524.58,370.16" fill="url(#g93)" /><polygon points="364.42,409.34 405.22,439.34 390.38,450.66 349.58,420.66" fill="url(#g94)" /><polygon points="417.42,405.34 458.22,435.34 443.38,446.66 402.58,416.66" fill="url(#g95)" /><polygon points="418.42,442.34 459.22,472.34 444.38,483.66 403.58,453.66" fill="url(#g96)" /><polygon points="449.42,506.84 490.22,536.84 475.38,548.16 434.58,518.16" fill="url(#g97)" /><polygon points="596.17,395.59 636.97,425.59 622.13,436.91 581.33,406.91" fill="url(#g98)" /><polygon points="646.17,395.59 686.97,425.59 672.13,436.91 631.33,406.91" fill="url(#g99)" /><polygon points="581.17,506.84 621.97,536.84 607.13,548.16 566.33,518.16" fill="url(#g100)" /></g></g>
<g><ellipse cx="90" cy="68.5" rx="47" ry="31.5" fill="#ffffff" />
<ellipse cx="90" cy="58" rx="15.5" ry="13.6" fill="#ffffff" stroke="#415264" stroke-width="3.2" />
<path d="M58,100 L58,93 Q58,81 73,77.5 L82.5,74.8 L90,92.5 L97.5,74.8 L107,77.5 Q122,81 122,93 L122,100 Z" fill="#415264" />
<line x1="57.5" y1="101" x2="122.5" y2="101" stroke="#ffffff" stroke-width="2" stroke-linecap="butt"/>
<ellipse cx="283" cy="57.2" rx="21.5" ry="17.6" fill="#ffffff" />
<path d="M276,75 L290,75 L283,93 Z" fill="#ffffff" />
<path d="M255,98.5 L255,93 Q255,82 269,78.5 L277,76.2 L283,92 L289,76.2 L297,78.5 Q311,82 311,93 L311,98.5 Z" fill="#415264" stroke="#ffffff" stroke-width="7" stroke-linejoin="round" paint-order="stroke"/>
<ellipse cx="283" cy="58.3" rx="17.8" ry="15" fill="#415264" />
<ellipse cx="283" cy="60.9" rx="13.3" ry="11.6" fill="#ffffff" />
<path d="M400.5,32 L369.5,72.5 L384,98 Q395,107 406,98 L425.5,72.5 Z" fill="none" stroke="#ffffff" stroke-width="5.2" stroke-linejoin="round"/>
<ellipse cx="400.5" cy="32" rx="16" ry="12.5" fill="#ffffff" />
<ellipse cx="400.5" cy="32" rx="11" ry="8.4" fill="#415264" />
<ellipse cx="369.5" cy="72.5" rx="16" ry="12.5" fill="#ffffff" />
<ellipse cx="369.5" cy="72.5" rx="11" ry="8.4" fill="#415264" />
<ellipse cx="425.5" cy="72.5" rx="16" ry="12.5" fill="#ffffff" />
<ellipse cx="425.5" cy="72.5" rx="11" ry="8.4" fill="#415264" />
<polyline points="591,48.5 575.5,62" fill="none" stroke="#ffffff" stroke-width="6" stroke-linecap="butt" stroke-linejoin="miter"/>
<polyline points="566.5,79.5 572,87.5" fill="none" stroke="#ffffff" stroke-width="6" stroke-linecap="butt" stroke-linejoin="miter"/>
<polyline points="600.5,93 619.5,80" fill="none" stroke="#ffffff" stroke-width="6" stroke-linecap="butt" stroke-linejoin="miter"/>
<path d="M639,61.5 L634.5,77 L629,72 L621.5,80.5 L616.5,76.5 L624,69.5 L615.5,66.5 Z" fill="#ffffff" stroke="#415264" stroke-width="2" stroke-linejoin="round"/>
<path d="M608.5,73.5 L615,71.8 M621,69.5 L629,66.5" fill="none" stroke="#415264" stroke-width="2.2" stroke-linecap="round"/>
<ellipse cx="598.9" cy="38.6" rx="15.4" ry="11" fill="#ffffff" stroke="#415264" stroke-width="2.8" />
<path d="M593.5,36.8 c-1.2,5 4.2,5.5 4.8,1.5 c0.4,-2.6 1,-2.6 1.4,0 c0.6,4 6,3.5 4.8,-1.5" fill="none" stroke="#415264" stroke-width="2.6" stroke-linecap="round"/>
<ellipse cx="558.5" cy="68" rx="17" ry="12.6" fill="#ffffff" stroke="#415264" stroke-width="1.6" />
<ellipse cx="558.5" cy="68" rx="11.3" ry="8" fill="#415264" />
<ellipse cx="584.3" cy="97" rx="17" ry="12.6" fill="#ffffff" stroke="#415264" stroke-width="1.6" />
<ellipse cx="584.3" cy="97" rx="11.3" ry="8" fill="#415264" />
<ellipse cx="697.5" cy="70.5" rx="46.75" ry="34" fill="#ffffff" />
<path d="M672,59 L722.5,59 L722.5,82 L678,82 L672.5,86 L672,82 Z" fill="#ffffff" stroke="#415264" stroke-width="2.5" stroke-linejoin="round"/>
<line x1="678.5" y1="67.5" x2="716.5" y2="67.5" stroke="#415264" stroke-width="2.1" stroke-linecap="butt"/>
<line x1="678.5" y1="73.2" x2="716.5" y2="73.2" stroke="#415264" stroke-width="2.1" stroke-linecap="butt"/>
<rect x="834.5" y="45.5" width="99.5" height="54" fill="#ffffff" stroke="#415264" stroke-width="1.6" />
<line x1="843.75" y1="60" x2="896" y2="60" stroke="#415264" stroke-width="1.5" stroke-linecap="butt"/>
<line x1="843.75" y1="65.5" x2="867.5" y2="65.5" stroke="#415264" stroke-width="1.5" stroke-linecap="butt"/>
<path d="M844.5,69 L844.5,90 L921,90" fill="none" stroke="#415264" stroke-width="1.8" />
<rect x="865.5" y="83.75" width="11.5" height="6.25" fill="#ffffff" stroke="#415264" stroke-width="1.5" />
<rect x="877" y="83.75" width="10.5" height="6.25" fill="#ffffff" stroke="#415264" stroke-width="1.5" />
<rect x="888.75" y="77" width="8.25" height="13" fill="#ffffff" stroke="#415264" stroke-width="1.5" />
<rect x="898.75" y="69.5" width="10.75" height="20.5" fill="#ffffff" stroke="#415264" stroke-width="1.5" />
<rect x="910.75" y="75" width="10.25" height="15" fill="#ffffff" stroke="#415264" stroke-width="1.5" />
<ellipse cx="921.5" cy="49.5" rx="10.8" ry="8.2" fill="#ffffff" stroke="#415264" stroke-width="2.3" />
<path d="M915.5,47.5 L921,53 L935.5,39 L938,43 L925,52" fill="none" stroke="#415264" stroke-width="2.4" stroke-linejoin="round" stroke-linecap="round"/>
<ellipse cx="90.5" cy="248.75" rx="47" ry="34" fill="#ffffff" />
<path d="M50.3,269.3 C50.5,262 53,258 58,255.5 C62,253.5 66,252 70.4,251.6 C73,251.5 75,253 76.5,256 L79,262 L81,257 C82,252 84.5,248.5 88.1,247.5 C91,246.8 94,247.3 96.4,248 C100,249 103,250 104.7,251 C108,253.5 110,256 110.6,258 C112,262 112.3,265 112.3,269.3 Z" fill="#415264" />
<path d="M116.5,269.3 C116.5,264 116,261 115.3,258 C114.5,255 113,252 111.7,249.6 C115,250 118,251 120,252.2 C123,254.5 125,257.5 125.9,260.5 C127,263.5 127.6,266 127.7,269.3 Z" fill="#415264" />
<path d="M61.6,253.4 C66,248 68,240 68.6,232.2 C69.5,223 76,217 90.5,216.8 C103,216.8 110,222 111.7,228.6 C113,233 114.2,241 112.3,244 C108,246 101,245 98.8,242.8 C96.5,240.5 95,236 95.8,231.6 C95.5,235 95,237 94,238 C92,241 89,241.8 85.8,241.6 C82,241.4 79,240 77,237 C76,235.5 75.7,234.5 75.7,233.3 C76,240 77,250 79.5,262.5 L76.5,256 C75,253 73,251.5 70.4,251.6 C67,252 64,252.6 61.6,253.4 Z" fill="#ffffff" />
<path d="M61.6,253.4 C66,248 68,240 68.6,232.2 C69.5,223 76,217 90.5,216.8 C103,216.8 110,222 111.7,228.6 C113,233 114.2,241 112.3,244 C108,246 101,245 98.8,242.8 C96.5,240.5 95,236 95.8,231.6" fill="none" stroke="#415264" stroke-width="2.3" stroke-linecap="round" stroke-linejoin="round"/>
<path d="M95.8,231.6 C95.5,235 95,237 94,238 C92,241 89,241.8 85.8,241.6 C82,241.4 79,240 77,237 C76,235.5 75.7,234.5 75.7,233.3 C76,240 76.6,247 77.4,252.5" fill="none" stroke="#415264" stroke-width="2.1" stroke-linecap="round" stroke-linejoin="round"/>
<path d="M77.6,246 C78.2,252 78.8,258 79.6,262.6" fill="none" stroke="#ffffff" stroke-width="2.8" stroke-linecap="round"/>
<ellipse cx="104" cy="369.5" rx="53" ry="39" fill="#ffffff" />
<path d="M98.66,353.73 L98.76,347.84 L109.24,347.84 L109.34,353.73 L115.95,355.79 L121.54,351.68 L128.95,357.27 L123.5,361.49 L126.24,366.47 L134.05,366.55 L134.05,374.45 L126.24,374.53 L123.5,379.51 L128.95,383.73 L121.54,389.32 L115.95,385.21 L109.34,387.27 L109.24,393.16 L98.76,393.16 L98.66,387.27 L92.05,385.21 L86.46,389.32 L79.05,383.73 L84.5,379.51 L81.76,374.53 L73.95,374.45 L73.95,366.55 L81.76,366.47 L84.5,361.49 L79.05,357.27 L86.46,351.68 L92.05,355.79Z" fill="#415264" stroke="#415264" stroke-width="2.2" stroke-linejoin="round"/>
<ellipse cx="104" cy="370.5" rx="14" ry="10.6" fill="#ffffff" />
<ellipse cx="884.5" cy="263.75" rx="48.75" ry="36.25" fill="#ffffff" />
<rect x="892.5" y="249.5" width="14.1" height="9.1" fill="#ffffff" stroke="#324a58" stroke-width="2" />
<rect x="864.3" y="253.2" width="10.4" height="7" rx="1.5" fill="#fff" stroke="#324a58" stroke-width="1.9"/>
<rect x="858" y="258.6" width="52.6" height="20.4" fill="#ffffff" stroke="#324a58" stroke-width="2.1" />
<rect x="875.8" y="256.5" width="15.6" height="3.5" fill="#ffffff" />
<path d="M874.7,254.3 L892.5,254.3" fill="none" stroke="#324a58" stroke-width="1.7" />
<path d="M874.8,258.6 L876,260.9 L891.3,260.9 L892.5,258.6" fill="none" stroke="#324a58" stroke-width="1.9" stroke-linejoin="round"/>
<path d="M910.6,257.6 L912.3,257.6 L912.3,263" fill="none" stroke="#324a58" stroke-width="1.5" />
<line x1="864.8" y1="263.9" x2="875.5" y2="263.9" stroke="#324a58" stroke-width="1.9" stroke-linecap="butt"/>
<line x1="864.8" y1="269.7" x2="876" y2="269.7" stroke="#3d566b" stroke-width="1.9" stroke-linecap="butt"/>
<line x1="876" y1="269.7" x2="894" y2="269.7" stroke="#6d9aa0" stroke-width="1.6" stroke-linecap="butt"/>
<line x1="864.8" y1="274" x2="876.4" y2="274" stroke="#324a58" stroke-width="1.9" stroke-linecap="butt"/>
<line x1="896.8" y1="262.7" x2="905.1" y2="262.7" stroke="#324a58" stroke-width="1.7" stroke-linecap="butt"/>
<path d="M860.9,248 C862.5,242 868,238 879,237.3 C873.5,239.3 871,241 868.5,243.2 C866.5,245 865.2,246.8 864.2,248 Z" fill="#415264" stroke="#415264" stroke-width="0.6" />
<path d="M834.5,412.5 L932.5,410.5 L934.5,474 L924,468.8 L834.5,468.8 Z" fill="#ffffff" stroke="#415264" stroke-width="1.8" stroke-linejoin="round"/>
<path d="M868.5,429.8 L889.5,432.3 L912,416" fill="none" stroke="#415264" stroke-width="2.5" stroke-linejoin="round"/>
<ellipse cx="859.5" cy="428.75" rx="8.8" ry="6.3" fill="#ffffff" stroke="#415264" stroke-width="2.5" />
<ellipse cx="915" cy="410.5" rx="9.8" ry="7.4" fill="#ffffff" stroke="#415264" stroke-width="2.5" />
<path d="M913,409 q1.5,-2.5 3,-0.5 q0.5,2 -1.5,2.5" fill="none" stroke="#7d93a5" stroke-width="1.2" />
<line x1="843.75" y1="447.5" x2="876" y2="447.5" stroke="#6e8395" stroke-width="1.5" stroke-linecap="butt"/>
<line x1="843.75" y1="452.5" x2="856" y2="452.5" stroke="#8ea2b3" stroke-width="1.4" stroke-linecap="butt"/>
<line x1="862" y1="452.5" x2="881" y2="452.5" stroke="#8ea2b3" stroke-width="1.4" stroke-linecap="butt"/>
<line x1="843.75" y1="457.3" x2="856" y2="457.3" stroke="#6e8395" stroke-width="1.4" stroke-linecap="butt"/>
<line x1="862" y1="457" x2="900" y2="457" stroke="#6c97a0" stroke-width="1.5" stroke-linecap="butt"/>
<line x1="843.75" y1="461.5" x2="874" y2="461.5" stroke="#9aacbb" stroke-width="1.3" stroke-linecap="butt"/>
<path d="M905.5,457.3 L933.8,447.3 L934.2,473.8 Z" fill="#e9eef2" stroke="#415264" stroke-width="1.9" stroke-linejoin="round"/>
<path d="M921,458 L927.5,458.5 L931.5,452" fill="none" stroke="#415264" stroke-width="1.6" />
<ellipse cx="60" cy="630.6" rx="15.6" ry="10.8" fill="#ffffff" stroke="#415264" stroke-width="2.2" />
<ellipse cx="59.7" cy="634.4" rx="9.8" ry="7" fill="#45566a" />
<path d="M41.5,647.8 L53.5,640.8 Q60,639.8 70,640.8 L79.2,647.8 Z" fill="#ffffff" stroke="#415264" stroke-width="1.6" stroke-linejoin="round"/>
<rect x="38.1" y="648.1" width="42.5" height="3.8" fill="#ffffff" />
<path d="M43.5,688 L43.5,676 C43.5,666.5 50,662.3 60,662.3 C70,662.3 76.5,666.5 76.5,676 L76.5,688 Z" fill="#ffffff" stroke="#415264" stroke-width="2.4" />
<path d="M49.5,687 C49,680 50,671 58,670.8 C68,670.6 71,678 73,687" fill="#f3f6f8" stroke="#415264" stroke-width="2" />
<rect x="40.6" y="688" width="39.4" height="3.3" fill="#ffffff" />
<rect x="76.9" y="666.2" width="32.1" height="3.8" fill="#ffffff" />
<rect x="108.75" y="640.5" width="35" height="44.5" fill="#ffffff" />
<rect x="111.9" y="655.6" width="28.1" height="28.2" fill="#54697f" />
<rect x="111.9" y="655.6" width="28.1" height="3.9" fill="#6d8398" />
<path d="M101,641.3 L126.25,619.6 L152.3,641.3 L143.75,641.3 L126.25,627 L108.75,641.3 Z" fill="#ffffff" stroke="#415264" stroke-width="1.8" stroke-linejoin="round"/>
<path d="M108.75,641.8 L126.25,627.5 L143.75,641.8 Z" fill="#ffffff" />
<path d="M113.3,635.8 L126.25,625.2 L139.8,636.2" fill="none" stroke="#415264" stroke-width="1.5" stroke-linejoin="round"/>
<rect x="278.75" y="619.5" width="64.25" height="62.5" fill="#ffffff" stroke="#415264" stroke-width="2.4" />
<ellipse cx="311" cy="615" rx="5" ry="4" fill="#ffffff" stroke="#415264" stroke-width="1.6" />
<rect x="289.5" y="617" width="43" height="8.5" fill="#ffffff" stroke="#415264" stroke-width="2" />
<line x1="288.75" y1="635" x2="326" y2="635" stroke="#415264" stroke-width="2.3" stroke-linecap="butt"/>
<line x1="288.75" y1="640.5" x2="332" y2="640.5" stroke="#4d6173" stroke-width="1.9" stroke-linecap="butt"/>
<line x1="288.75" y1="646" x2="322.5" y2="646" stroke="#415264" stroke-width="2.2" stroke-linecap="butt"/>
<line x1="288.75" y1="653.75" x2="332.5" y2="653.75" stroke="#4d6173" stroke-width="1.9" stroke-linecap="butt"/>
<line x1="288.75" y1="660.75" x2="332.5" y2="660.75" stroke="#6f8496" stroke-width="1.9" stroke-linecap="butt"/>
<line x1="288.75" y1="666" x2="332.5" y2="666" stroke="#4d6173" stroke-width="1.9" stroke-linecap="butt"/>
<line x1="288.75" y1="671.75" x2="332.5" y2="671.75" stroke="#6f8496" stroke-width="1.8" stroke-linecap="butt"/>
<rect x="421" y="622.5" width="60" height="52" fill="#ffffff" stroke="#415264" stroke-width="2.4" />
<ellipse cx="452.5" cy="620.5" rx="3.2" ry="5" fill="#ffffff" stroke="#415264" stroke-width="1.6" />
<rect x="432.5" y="623.5" width="37" height="7" fill="#ffffff" stroke="#415264" stroke-width="2" />
<line x1="429" y1="641.5" x2="461" y2="641.5" stroke="#415264" stroke-width="2.2" stroke-linecap="butt"/>
<line x1="429" y1="646" x2="455" y2="646" stroke="#4d6173" stroke-width="1.9" stroke-linecap="butt"/>
<line x1="429" y1="652" x2="469" y2="652" stroke="#6f8496" stroke-width="1.7" stroke-linecap="butt"/>
<line x1="436" y1="659.5" x2="469.5" y2="659.5" stroke="#5f8f98" stroke-width="1.6" stroke-linecap="butt"/>
<line x1="434" y1="666" x2="460" y2="666" stroke="#6f8496" stroke-width="1.5" stroke-linecap="butt"/>
<path d="M463.75,677.5 L491,653 L491,677.5 Z" fill="#ffffff" stroke="#415264" stroke-width="2" stroke-linejoin="round"/>
<path d="M393.5,683 L432,657.5 L440.5,654.5 L437.5,662.5 L399,690.5 Q393.5,692.5 392,688.5 Q391.5,685 393.5,683 Z" fill="#ffffff" stroke="#415264" stroke-width="1.7" stroke-linejoin="round"/>
<path d="M432,657.5 L437.5,662.5" fill="none" stroke="#415264" stroke-width="1.2" />
<path d="M662.9,605.8 Q669.21,615.4 680.96,617.67 Q691.59,622.06 704.8,618.5 Q700.7,628.52 707.58,637.03 Q711.1,646.61 718.5,651.3 Q711.1,655.99 707.53,665.66 Q700.55,674.22 704,683.8 Q691.39,680.65 680.85,684.96 Q669.21,687.2 662.9,695.4 Q656.63,687.19 645.23,684.98 Q634.88,680.8 621.7,684.5 Q625.67,674.41 618.54,665.77 Q614.9,655.99 606.5,651.3 Q614.9,646.61 618.48,636.93 Q625.48,628.36 621.7,618.5 Q634.65,621.93 645.1,617.66 Q656.63,615.41 662.9,605.8Z" fill="#ffffff" stroke="#ffffff" stroke-width="1" stroke-linejoin="round"/>
<ellipse cx="633.2" cy="626" rx="4.2" ry="1.9" fill="#415264" transform="rotate(-28 633.2 626)"/>
<ellipse cx="693.9" cy="626" rx="4.2" ry="1.9" fill="#415264" transform="rotate(28 693.9 626)"/>
<ellipse cx="634" cy="675.9" rx="4.2" ry="1.9" fill="#415264" transform="rotate(28 634 675.9)"/>
<ellipse cx="693.2" cy="675.9" rx="4.2" ry="1.9" fill="#415264" transform="rotate(-28 693.2 675.9)"/>
<ellipse cx="663.2" cy="642.6" rx="17" ry="13.7" fill="#45566a" />
<path d="M639,672.3 C640,665 646,660.5 656.5,658 L663.2,671 L670,658 C680,660.5 686.5,665 688.2,672.3 Z" fill="#45566a" />
<path d="M845,618.5 L916.5,618.5 L916.5,671 L924.5,671 L924.5,685 L845,685 Z" fill="#ffffff" stroke="#415264" stroke-width="2.4" stroke-linejoin="round"/>
<ellipse cx="881.6" cy="615" rx="4.8" ry="4.2" fill="#ffffff" stroke="#415264" stroke-width="1.6" />
<rect x="857.8" y="616" width="46.2" height="9" fill="#ffffff" stroke="#415264" stroke-width="2" />
<line x1="855.5" y1="634.5" x2="895" y2="634.5" stroke="#415264" stroke-width="2.2" stroke-linecap="butt"/>
<line x1="855.5" y1="641" x2="908" y2="641" stroke="#4d6173" stroke-width="1.9" stroke-linecap="butt"/>
<line x1="855.5" y1="646" x2="882" y2="646" stroke="#415264" stroke-width="1.9" stroke-linecap="butt"/>
<line x1="855.5" y1="651" x2="875" y2="651" stroke="#5f8f98" stroke-width="2.4" stroke-linecap="butt"/>
<line x1="875" y1="651" x2="906" y2="651" stroke="#6f8496" stroke-width="1.6" stroke-linecap="butt"/>
<line x1="855.5" y1="656" x2="897" y2="656" stroke="#4d6173" stroke-width="1.8" stroke-linecap="butt"/>
<line x1="855.5" y1="661" x2="905" y2="661" stroke="#6f8496" stroke-width="1.6" stroke-linecap="butt"/>
<line x1="855.5" y1="667" x2="885" y2="667" stroke="#4d6173" stroke-width="1.8" stroke-linecap="butt"/>
<line x1="855.5" y1="673.5" x2="893" y2="673.5" stroke="#5f8f98" stroke-width="1.5" stroke-linecap="butt"/>
<path d="M897.5,670.2 L932,643.8 Q936.5,641 939,643.8 Q940.8,646.5 937.2,649.3 L902.5,675.6 Q898,677.6 896.3,674.6 Q895.6,672 897.5,670.2 Z" fill="#ffffff" stroke="#415264" stroke-width="1.7" stroke-linejoin="round"/>
<path d="M918,653.5 L924,660.5" fill="none" stroke="#415264" stroke-width="1.4" />
<ellipse cx="900" cy="673" rx="2.6" ry="2.2" fill="#ffffff" stroke="#415264" stroke-width="1.3" />
<polyline points="393.75,257 446,257" fill="none" stroke="#ffffff" stroke-width="5" stroke-linecap="butt" stroke-linejoin="miter"/>
<polyline points="523,253.75 588.75,253.75" fill="none" stroke="#ffffff" stroke-width="5" stroke-linecap="butt" stroke-linejoin="miter"/>
<polyline points="393.75,257.5 393.75,287" fill="none" stroke="#ffffff" stroke-width="5" stroke-linecap="butt" stroke-linejoin="miter"/>
<polyline points="318,287 419.5,287" fill="none" stroke="#ffffff" stroke-width="5" stroke-linecap="butt" stroke-linejoin="miter"/>
<polyline points="318,287 318,341" fill="none" stroke="#ffffff" stroke-width="5" stroke-linecap="butt" stroke-linejoin="miter"/>
<polyline points="419.5,287 419.5,363.75" fill="none" stroke="#ffffff" stroke-width="5" stroke-linecap="butt" stroke-linejoin="miter"/>
<polyline points="348,363.75 532,363.75" fill="none" stroke="#ffffff" stroke-width="5" stroke-linecap="butt" stroke-linejoin="miter"/>
<polyline points="588.75,253.75 588.75,317" fill="none" stroke="#ffffff" stroke-width="5" stroke-linecap="butt" stroke-linejoin="miter"/>
<polyline points="486,300 486,317 644.5,317" fill="none" stroke="#ffffff" stroke-width="5" stroke-linecap="butt" stroke-linejoin="miter"/>
<polyline points="531,364.5 531,422" fill="none" stroke="#ffffff" stroke-width="5" stroke-linecap="butt" stroke-linejoin="miter"/>
<polyline points="531,401.25 638.75,401.25" fill="none" stroke="#ffffff" stroke-width="5" stroke-linecap="butt" stroke-linejoin="miter"/>
<polyline points="641,401.25 641,488.5 530.5,488.5 530.5,478" fill="none" stroke="#ffffff" stroke-width="5" stroke-linecap="butt" stroke-linejoin="miter"/>
<polyline points="573.75,488.5 573.75,512.5" fill="none" stroke="#ffffff" stroke-width="5" stroke-linecap="butt" stroke-linejoin="miter"/>
<polyline points="442,512.5 573.75,512.5" fill="none" stroke="#ffffff" stroke-width="5" stroke-linecap="butt" stroke-linejoin="miter"/>
<polyline points="317.5,387 317.5,487.5 443.5,487.5 443.5,512.5" fill="none" stroke="#ffffff" stroke-width="5" stroke-linecap="butt" stroke-linejoin="miter"/>
<polyline points="357,415 357,487.5" fill="none" stroke="#ffffff" stroke-width="5" stroke-linecap="butt" stroke-linejoin="miter"/>
<polyline points="410,411 410,448" fill="none" stroke="#ffffff" stroke-width="5" stroke-linecap="butt" stroke-linejoin="miter"/>
<polyline points="411,448.5 474,448.5" fill="none" stroke="#ffffff" stroke-width="5" stroke-linecap="butt" stroke-linejoin="miter"/>
<polygon points="486,291 497,305 486,302 475,305" fill="#ffffff" />
<polygon points="317.5,402.5 328,414.5 317.5,411.5 307,414.5" fill="#ffffff" />
<polygon points="488,448.5 472,458 472,448.5 472,439" fill="#ffffff" />
<ellipse cx="393.75" cy="257.5" rx="10.3" ry="7.9" fill="#ffffff" />
<ellipse cx="318" cy="287" rx="10.3" ry="7.9" fill="#ffffff" />
<ellipse cx="419.5" cy="286.5" rx="10.4" ry="8.5" fill="#ffffff" />
<ellipse cx="588.75" cy="253.75" rx="10.3" ry="7.9" fill="#ffffff" />
<ellipse cx="528.75" cy="317" rx="10.3" ry="7.9" fill="#ffffff" />
<ellipse cx="644.5" cy="317" rx="10.3" ry="7.9" fill="#ffffff" />
<ellipse cx="418.75" cy="363.75" rx="12.5" ry="9.6" fill="#ffffff" />
<ellipse cx="532" cy="364.5" rx="10.3" ry="7.9" fill="#ffffff" />
<ellipse cx="357" cy="415" rx="10.3" ry="7.9" fill="#ffffff" />
<ellipse cx="410" cy="411" rx="10.3" ry="7.9" fill="#ffffff" />
<ellipse cx="411" cy="448" rx="10.8" ry="8.2" fill="#ffffff" />
<ellipse cx="442" cy="512.5" rx="10.3" ry="7.9" fill="#ffffff" />
<ellipse cx="588.75" cy="401.25" rx="12" ry="9.6" fill="#ffffff" />
<ellipse cx="638.75" cy="401.25" rx="10.3" ry="7.9" fill="#ffffff" />
<ellipse cx="573.75" cy="512.5" rx="10.3" ry="7.9" fill="#ffffff" />
<path d="M338,299.5 L338,323 L357.5,310.5 Z" fill="#b9c6d2" stroke="#ffffff" stroke-width="2.6" stroke-linejoin="round"/>
<path d="M348,336 L370,328 L382.5,334.5 L367.5,345 Z" fill="#ffffff" />
<path d="M552,296.25 L567.5,288 L585.5,290 L575,298 Z" fill="#ffffff" />
<path d="M601.25,428.75 L620.5,418 L620.5,440 Z" fill="#ffffff" />
<rect x="603" y="330" width="72" height="49.5" fill="#ffffff" />
<path d="M619.46,356.34 L620.33,354 L624.32,354.59 L623.88,356.99 L626.1,358.22 L629.16,357.26 L631.01,359.9 L628.15,361.14 L628.22,363.17 L631.16,364.31 L629.48,367.01 L626.36,366.16 L624.23,367.47 L624.83,369.85 L620.89,370.58 L619.86,368.27 L617.13,367.87 L614.94,369.7 L611.7,367.91 L613.53,365.89 L612.27,364.08 L608.94,363.98 L608.84,361.02 L612.16,360.8 L613.3,358.95 L611.33,356.99 L614.45,355.09 L616.76,356.84Z" fill="#304353" stroke="#304353" stroke-width="1.2" stroke-linejoin="round"/>
<ellipse cx="620.1" cy="362.3" rx="5.2" ry="3.9" fill="#ffffff" />
<path d="M646.81,342.19 L648.04,339.71 L653.31,340.48 L653.11,343.11 L656.68,344.84 L659.97,343.72 L662.95,346.95 L660.23,348.7 L661.05,351.75 L664.48,352.63 L663.42,356.43 L659.77,356.29 L657.37,358.86 L658.93,361.24 L654.44,363.38 L652.02,361.42 L647.79,362.01 L646.56,364.49 L641.29,363.72 L641.49,361.09 L637.92,359.36 L634.63,360.48 L631.65,357.25 L634.37,355.5 L633.55,352.45 L630.12,351.57 L631.18,347.77 L634.83,347.91 L637.23,345.34 L635.67,342.96 L640.16,340.82 L642.58,342.78Z" fill="#304353" stroke="#304353" stroke-width="1.4" stroke-linejoin="round"/>
<ellipse cx="647.3" cy="352.1" rx="11.7" ry="8.3" fill="#ffffff" />
<path d="M642.5,351.2 q1.5,-2 3,0 q0.5,2.2 -1.5,2.5 q-1.8,-0.3 -1.5,-2.5 Z" fill="#304353" />
<path d="M650.5,349 l2.2,2 l-1.2,2.4 M652.8,348.2 l0.8,3.6" fill="none" stroke="#304353" stroke-width="1.5" stroke-linecap="round"/>
<ellipse cx="484.7" cy="253.5" rx="39.4" ry="28.7" fill="#ffffff" stroke="#415264" stroke-width="2.1" />
<path d="M484.81,239.16 L487.61,235.52 L489.55,235.73 L490.74,239.81 L497.02,242.08 L502.24,240.32 L503.64,241.32 L501.28,245.12 L504.52,249.63 L510.17,250.43 L510.49,251.83 L505.5,253.9 L504.45,258.93 L508.37,261.98 L507.49,263.24 L501.76,262.8 L496.83,266.42 L497.53,270.55 L495.79,271.2 L491.51,268.41 L484.59,269.24 L481.79,272.88 L479.85,272.67 L478.66,268.59 L472.38,266.32 L467.16,268.08 L465.76,267.08 L468.12,263.28 L464.88,258.77 L459.23,257.97 L458.91,256.57 L463.9,254.5 L464.95,249.47 L461.03,246.42 L461.91,245.16 L467.64,245.6 L472.57,241.98 L471.87,237.85 L473.61,237.2 L477.89,239.99Z" fill="#415264" stroke="#415264" stroke-width="1" stroke-linejoin="round"/>
<ellipse cx="484.7" cy="254.2" rx="20.4" ry="14.8" fill="#ffffff" stroke="#415264" stroke-width="2" />
<ellipse cx="484.7" cy="254.2" rx="15.3" ry="10.7" fill="#ffffff" stroke="#415264" stroke-width="2.3" />
<ellipse cx="316.25" cy="363.75" rx="32.5" ry="24" fill="#ffffff" stroke="#415264" stroke-width="2" />
<path d="M313.3,354.38 L313.28,350.75 L319.22,350.75 L319.2,354.38 L322.85,355.53 L326.2,352.95 L330.4,356.16 L327.02,358.72 L328.53,361.5 L333.29,361.48 L333.29,366.02 L328.53,366 L327.02,368.78 L330.4,371.34 L326.2,374.55 L322.85,371.97 L319.2,373.12 L319.22,376.75 L313.28,376.75 L313.3,373.12 L309.65,371.97 L306.3,374.55 L302.1,371.34 L305.48,368.78 L303.97,366 L299.21,366.02 L299.21,361.48 L303.97,361.5 L305.48,358.72 L302.1,356.16 L306.3,352.95 L309.65,355.53Z" fill="#415264" stroke="#415264" stroke-width="1.2" stroke-linejoin="round"/>
<ellipse cx="316.25" cy="363.75" rx="7" ry="5.3" fill="#ffffff" />
<ellipse cx="529.7" cy="449.7" rx="38.9" ry="28.9" fill="#ffffff" stroke="#415264" stroke-width="2.1" />
<path d="M527.39,435.27 L527.94,431.09 L533.06,431.09 L533.61,435.27 L539.53,436.67 L543.34,433.53 L547.48,435.73 L544.56,439.34 L548.22,443.01 L553.84,442.11 L555.42,445.66 L550.15,447.33 L550.15,451.87 L555.42,453.54 L553.84,457.09 L548.22,456.19 L544.56,459.86 L547.48,463.47 L543.34,465.67 L539.53,462.53 L533.61,463.93 L533.06,468.11 L527.94,468.11 L527.39,463.93 L521.47,462.53 L517.66,465.67 L513.52,463.47 L516.44,459.86 L512.78,456.19 L507.16,457.09 L505.58,453.54 L510.85,451.87 L510.85,447.33 L505.58,445.66 L507.16,442.11 L512.78,443.01 L516.44,439.34 L513.52,435.73 L517.66,433.53 L521.47,436.67Z" fill="#ffffff" stroke="#415264" stroke-width="1.9" stroke-linejoin="round"/>
<ellipse cx="530.5" cy="449.6" rx="19.6" ry="14.6" fill="#ffffff" stroke="#415264" stroke-width="2" />
<ellipse cx="530.7" cy="449.5" rx="15" ry="11.2" fill="#46596c" /></g>
<g><polyline points="89.5,146 89.5,181" fill="none" stroke="#415264" stroke-width="7" stroke-linecap="butt" stroke-linejoin="miter"/>
<polygon points="89.5,134.5 104.5,149 89.5,147 74.5,149" fill="#415264" />
<polygon points="89.5,192 74.5,177.5 89.5,179.5 104.5,177.5" fill="#415264" />
<polyline points="89.5,164 190,164" fill="none" stroke="#415264" stroke-width="6" stroke-linecap="butt" stroke-linejoin="miter"/>
<polygon points="257,164 186,180.5 186,164 186,147.5" fill="#415264" />
<polyline points="197,244 281.5,244 281.5,164 702.5,164" fill="none" stroke="#415264" stroke-width="6" stroke-linecap="butt" stroke-linejoin="miter"/>
<polygon points="179.5,244.5 199,233 197,244.5 199,256" fill="#415264" />
<polygon points="469,164 407.5,180.5 407.5,164 407.5,147.5" fill="#415264" />
<polyline points="702.5,147 702.5,240 765,240" fill="none" stroke="#415264" stroke-width="6.5" stroke-linecap="butt" stroke-linejoin="miter"/>
<polygon points="702.5,135 717,149 702.5,147 688,149" fill="#415264" />
<polygon points="777.5,239.5 763.5,248 765.5,239.5 763.5,231" fill="#415264" />
<polyline points="885,147 885,180" fill="none" stroke="#415264" stroke-width="8" stroke-linecap="butt" stroke-linejoin="miter"/>
<polygon points="885,135 900.5,149.5 885,147.5 869.5,149.5" fill="#415264" />
<polygon points="885,192 869.5,177.5 885,179.5 900.5,177.5" fill="#415264" />
<polyline points="884.5,340 884.5,361" fill="none" stroke="#415264" stroke-width="8" stroke-linecap="butt" stroke-linejoin="miter"/>
<polygon points="884.5,328.5 900,342.5 884.5,340.5 869,342.5" fill="#415264" />
<polygon points="884.5,372.5 869,358.5 884.5,360.5 900,358.5" fill="#415264" />
<polyline points="38,570 38,476 126,476" fill="none" stroke="#415264" stroke-width="6.5" stroke-linecap="butt" stroke-linejoin="miter"/>
<polygon points="191,476.5 123.5,493.5 123.5,476.5 123.5,459.5" fill="#415264" />
<polygon points="38,580.5 23.5,567 38,569 52.5,567" fill="#415264" />
<polyline points="91.5,570 91.5,534 309,534 309,570" fill="none" stroke="#415264" stroke-width="6.5" stroke-linecap="butt" stroke-linejoin="miter"/>
<polygon points="91.5,581 77.5,567.5 91.5,569.5 105.5,567.5" fill="#415264" />
<polygon points="309,581 295,567.5 309,569.5 323,567.5" fill="#415264" />
<polyline points="447,536.5 447,570" fill="none" stroke="#415264" stroke-width="6.5" stroke-linecap="butt" stroke-linejoin="miter"/>
<polygon points="447,581.5 433,567.5 447,569.5 461,567.5" fill="#415264" />
<polyline points="668,570 668,534.5 886,534.5 886,570" fill="none" stroke="#415264" stroke-width="6.5" stroke-linecap="butt" stroke-linejoin="miter"/>
<polygon points="668,581.5 654,567.5 668,569.5 682,567.5" fill="#415264" />
<polygon points="886,582 871,568 886,570 901,568" fill="#415264" />
<polygon points="672,535.5 739,518.75 739,535.5 739,552.25" fill="#415264" />
<polyline points="180,69.5 195,69.5" fill="none" stroke="#415264" stroke-width="5.5" stroke-linecap="butt" stroke-linejoin="miter"/>
<polygon points="205,69.5 191.5,77 193.5,69.5 191.5,62" fill="#415264" />
<polyline points="481,69.5 496,69.5" fill="none" stroke="#415264" stroke-width="5.5" stroke-linecap="butt" stroke-linejoin="miter"/>
<polygon points="506,69.5 492.5,77 494.5,69.5 492.5,62" fill="#415264" />
<polyline points="769,69.5 782.5,69.5" fill="none" stroke="#415264" stroke-width="5.5" stroke-linecap="butt" stroke-linejoin="miter"/>
<polygon points="792.5,69.5 779,77 781,69.5 779,62" fill="#415264" />
<polyline points="189.5,655 204.5,655" fill="none" stroke="#415264" stroke-width="5.5" stroke-linecap="butt" stroke-linejoin="miter"/>
<polygon points="214.5,655 201,662.5 203,655 201,647.5" fill="#415264" />
<polyline points="541,655.5 557.5,655.5" fill="none" stroke="#415264" stroke-width="5.5" stroke-linecap="butt" stroke-linejoin="miter"/>
<polygon points="567.5,655.5 554,663 556,655.5 554,648" fill="#415264" />
<polyline points="760.5,655.5 775,655.5" fill="none" stroke="#415264" stroke-width="5.5" stroke-linecap="butt" stroke-linejoin="miter"/>
<polygon points="785,655.5 771.5,663 773.5,655.5 771.5,648" fill="#415264" /></g>
</g></svg>
</body></html>
